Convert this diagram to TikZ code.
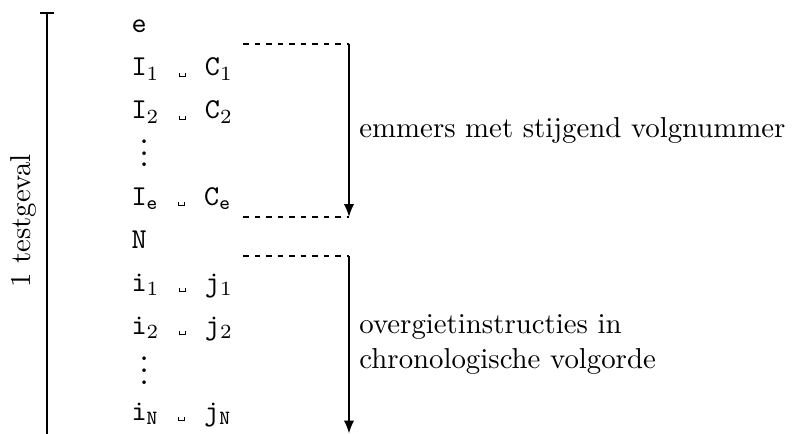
\documentclass[tikz,border=0pt]{standalone}
\usetikzlibrary{arrows.meta}
\newcommand\vspmark{\hbox to 5.25pt{\hss\vrule width 0.35pt height 1.2pt depth 0.35pt\vrule width 1.9pt height 0pt depth 0.35pt\vrule width 0.35pt height 1.2pt depth 0.35pt\hss}}
\begin{document}
\begin{tikzpicture}[x=0.3472pt,y=-0.3472pt,
  row/.style={anchor=base west,inner sep=0pt,font=\ttfamily},
  guide/.style={dash pattern=on 2pt off 2pt,line width=0.4pt},
  flow/.style={line width=0.6pt,-{Latex[length=4.5pt,width=3.6pt]}},
  bar/.style={line width=1pt},
  lab/.style={right,inner sep=3.33pt,align=left}]
\useasboundingbox (0,0) rectangle (793,434);
% left bar
\coordinate (bt) at (47,13);
\coordinate (bb) at (47,434);
\coordinate (tl) at (40,13);
\coordinate (tr) at (54,13);
\draw[bar] (bt) -- (bb);
\draw[bar] (tl) -- (tr);
\node[rotate=90,anchor=south] (tg) at (47,221) {1 testgeval};
% rows
\node[row] (r0) at (131,33) {e};
\node[row] (r1) at (131,76) {I$_1$ \vspmark{} C$_1$};
\node[row] (r2) at (131,119) {I$_2$ \vspmark{} C$_2$};
\node[row] (r3) at (136,167) {$\vdots$};
\node[row] (r4) at (131,205) {I$_{\mathtt{e}}$ \vspmark{} C$_{\mathtt{e}}$};
\node[row] (r5) at (131,248) {N};
\node[row] (r6) at (131,291) {i$_1$ \vspmark{} j$_1$};
\node[row] (r7) at (131,334) {i$_2$ \vspmark{} j$_2$};
\node[row] (r8) at (136,384) {$\vdots$};
\node[row] (r9) at (131,420) {i$_{\mathtt{N}}$ \vspmark{} j$_{\mathtt{N}}$};
% guides and arrows
\coordinate (d1) at (243,44);
\coordinate (a1s) at (349,44);
\coordinate (d2) at (243,217);
\coordinate (a1e) at (349,217);
\coordinate (d3) at (243,256);
\coordinate (a2s) at (349,256);
\coordinate (a2e) at (349,433.5);
\draw[guide] (d1) -- (a1s);
\draw[guide] (d2) -- (a1e);
\draw[guide] (d3) -- (a2s);
\draw[flow] (a1s) -- node[lab] (l1) {emmers met stijgend volgnummer} (a1e);
\draw[flow] (a2s) -- node[lab] (l2) {overgietinstructies in\\chronologische volgorde} (a2e);
\end{tikzpicture}
\end{document}
